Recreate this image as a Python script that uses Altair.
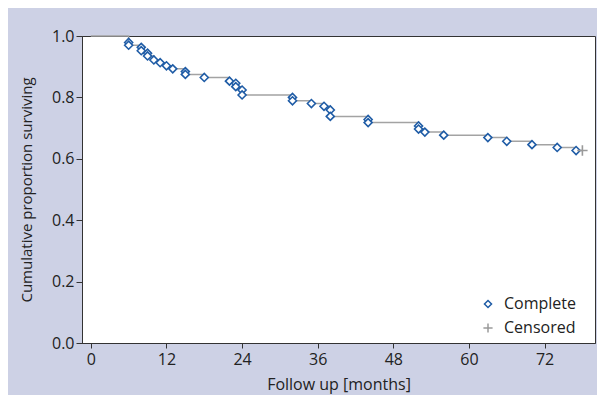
import altair as alt
import pandas as pd

# Event (complete) times in months and survival after each event
event_months = [6, 6, 8, 8, 9, 9, 10, 11, 12, 13, 15, 15, 18, 22, 23, 23, 24, 24,
                32, 32, 35, 37, 38, 38, 44, 44, 52, 52, 53, 56, 63, 66, 70, 74, 77]
event_surv = [0.979, 0.970, 0.963, 0.952, 0.944, 0.935, 0.922, 0.913, 0.903, 0.893,
              0.884, 0.875, 0.865, 0.853, 0.846, 0.835, 0.824, 0.808, 0.800, 0.789,
              0.780, 0.771, 0.759, 0.738, 0.728, 0.718, 0.707, 0.697, 0.687, 0.677,
              0.669, 0.657, 0.646, 0.637, 0.627]
censor_months = [78]
censor_surv = [0.627]

x_ticks = [0, 12, 24, 36, 48, 60, 72]
y_ticks = [0.0, 0.2, 0.4, 0.6, 0.8, 1.0]
types = ["Complete", "Censored"]

line_t = [0] + event_months + censor_months
line_s = [1.0] + event_surv + censor_surv
line_df = pd.DataFrame({"t": line_t, "s": line_s, "order": list(range(len(line_t)))})

pts_df = pd.DataFrame({
    "t": event_months + censor_months,
    "s": event_surv + censor_surv,
    "kind": ["Complete"] * len(event_months) + ["Censored"] * len(censor_months),
})

diamond_path = "M-1,0L0,-1L1,0L0,1Z"
plus_path = "M-1.3,0L1.3,0M0,-1.3L0,1.3"
font = "Open Sans"

x = alt.X("t:Q", scale=alt.Scale(domain=[-1.4, 80], nice=False, zero=False),
          axis=alt.Axis(values=x_ticks, title="Follow up [months]", titlePadding=9,
                        labelPadding=3, titleFontSize=16))
y = alt.Y("s:Q", scale=alt.Scale(domain=[0, 1], nice=False, zero=False),
          axis=alt.Axis(values=y_ticks, format=".1f", title="Cumulative proportion surviving",
                        titlePadding=17, labelPadding=2, titleFontSize=15, tickSize=6))

line = alt.Chart(line_df).mark_line(
    interpolate="step-after", color="#a3a3a3", strokeWidth=1.5
).encode(x=x, y=y, order="order:Q")

points = alt.Chart(pts_df).mark_point(
    filled=False, fill="white", fillOpacity=1, opacity=1, size=64, strokeWidth=1.6
).encode(
    x="t:Q",
    y="s:Q",
    shape=alt.Shape("kind:N", scale=alt.Scale(domain=types, range=[diamond_path, plus_path]),
                    title=None),
    stroke=alt.Stroke("kind:N", scale=alt.Scale(domain=types, range=["#1f5ca6", "#9a9a9a"]),
                      title=None),
)

chart = alt.layer(line, points).properties(
    width=513, height=307,
    background="#cdd1e5",
    padding={"left": 74, "top": 28, "right": 2, "bottom": 52},
    autosize="none",
).configure_view(
    stroke="#333333", strokeWidth=1, fill="white"
).configure_axis(
    domainColor="#333333", tickColor="#333333", labelColor="#222222", titleColor="#222222",
    labelFont=font, titleFont=font, labelFontSize=16,
    titleFontWeight="normal", grid=False, tickSize=5
).configure_legend(
    orient="none", legendX=398, legendY=260, labelFont=font, labelFontSize=16,
    labelColor="#222222", symbolSize=50, symbolStrokeWidth=1.5, rowPadding=8,
    labelOffset=8, padding=0
)

chart.save("out.html", embed_options={"renderer": "svg", "actions": False})
